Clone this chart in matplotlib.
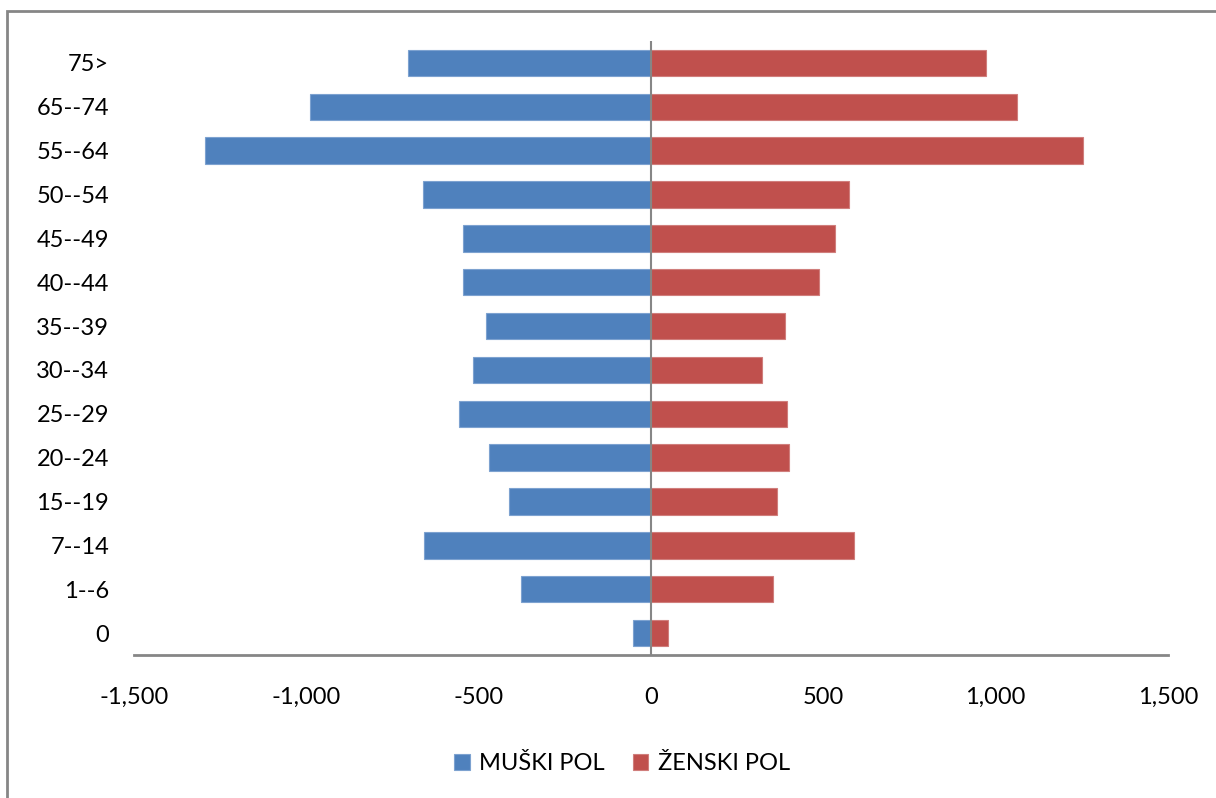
import matplotlib.pyplot as plt
from matplotlib.patches import Rectangle
from matplotlib.ticker import FuncFormatter

# age groups, bottom to top
age_groups = ['0', '1--6', '7--14', '15--19', '20--24', '25--29', '30--34',
              '35--39', '40--44', '45--49', '50--54', '55--64', '65--74', '75>']
muski = [52, 377, 658, 412, 470, 557, 516, 479, 545, 545, 661, 1294, 989, 705]
zenski = [49, 354, 589, 366, 400, 395, 322, 389, 487, 534, 574, 1253, 1062, 972]

plt.rcParams['font.family'] = ['Lato', 'DejaVu Sans']

fig = plt.figure(figsize=(12.16, 7.98), dpi=100)
ax = fig.add_axes([134 / 1216, 1 - 655 / 798, (1168 - 134) / 1216, (655 - 41) / 798])

pos = list(range(len(age_groups)))
ax.barh(pos, [-v for v in muski], height=0.6, color='#4F81BD',
        edgecolor='#7DA2D0', linewidth=0.8, label='MUŠKI POL')
ax.barh(pos, zenski, height=0.6, color='#C0504D',
        edgecolor='#D07E7C', linewidth=0.8, label='ŽENSKI POL')

ax.set_xlim(-1500, 1500)
ax.set_ylim(-0.5, 13.5)
ax.set_xticks([-1500, -1000, -500, 0, 500, 1000, 1500])
ax.xaxis.set_major_formatter(FuncFormatter(lambda v, p: f'{int(v):,}'))
ax.set_yticks(pos)
ax.set_yticklabels(age_groups)

for s in ['top', 'right', 'left']:
    ax.spines[s].set_visible(False)
ax.spines['bottom'].set_color('#868686')
ax.spines['bottom'].set_linewidth(2)
ax.axvline(0, color='#868686', linewidth=1.5)

ax.tick_params(axis='both', length=0, labelsize=17)
ax.tick_params(axis='x', pad=23)
ax.tick_params(axis='y', pad=18)

fig.legend(loc='center', bbox_to_anchor=(622 / 1216, 1 - 764 / 798), ncol=2,
           frameon=False, fontsize=17, handlelength=0.65, handleheight=0.65,
           columnspacing=1.2, handletextpad=0.4)

# outer chart border (only left/top show in the original crop)
fig.patches.append(Rectangle((7 / 1216, -0.1), 1.2, 1 - 11 / 798 + 0.1,
                             transform=fig.transFigure, fill=False,
                             edgecolor='#868686', linewidth=2))

fig.savefig('out.png', dpi=100)
